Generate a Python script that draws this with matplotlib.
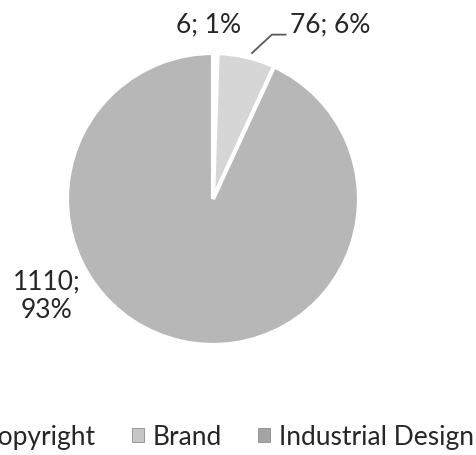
import numpy as np
import matplotlib.pyplot as plt
from matplotlib.patches import Patch

# Data
categories = ['Copyright', 'Brand', 'Industrial Design']
counts = [6, 76, 1110]
shares = [1, 6, 93]
colors = ['#f4f4f4', '#d6d6d6', '#b7b7b7']
legend_colors = ['#e8e8e8', '#c6c6c6', '#a4a4a4']

plt.rcParams['font.family'] = ['Lato', 'DejaVu Sans']
fs = 19
txt = '#262626'

fig = plt.figure(figsize=(4.76, 4.56), dpi=100)
# square axes holding a unit-radius pie, centre ~ (213, 200) px
ax = fig.add_axes([67 / 476, 1 - 346 / 456, 292 / 476, 292 / 456])
wedges, _ = ax.pie(counts, colors=colors, startangle=90, counterclock=False,
                   radius=1.0,
                   wedgeprops={'edgecolor': 'white', 'linewidth': 3})
ax.set_xlim(-1, 1)
ax.set_ylim(-1, 1)
ax.set_aspect('equal')
ax.axis('off')

labels = [f'{c}; {s}%' for c, s in zip(counts, shares)]

# Copyright
ax.text(-0.03, 1.20, labels[0], ha='center', va='center', fontsize=fs,
        color=txt, clip_on=False)

# Brand with leader line
w = wedges[1]
mid = np.deg2rad((w.theta1 + w.theta2) / 2 - 1.5)
p0 = np.array([np.cos(mid), np.sin(mid)]) * 1.03
corner = p0 + np.array([0.14, 0.13])
end = corner + np.array([0.10, 0.0])
ax.plot([p0[0], corner[0], end[0]], [p0[1], corner[1], end[1]],
        color='#595959', lw=1.3, clip_on=False, solid_capstyle='butt')
ax.text(end[0] + 0.025, 1.20, labels[1], ha='left', va='center',
        fontsize=fs, color=txt, clip_on=False)

# Industrial Design
ax.text(-1.14, -0.66, labels[2].replace(' ', '\n'), ha='center', va='center',
        fontsize=fs, color=txt, linespacing=1.2, clip_on=False)

handles = [Patch(facecolor=lc, edgecolor='#8c8c8c', linewidth=0.6)
           for lc in legend_colors]
fig.legend(handles, categories, loc='center right',
           bbox_to_anchor=(474 / 476, 1 - 438 / 456),
           borderpad=0, borderaxespad=0,
           ncol=3, frameon=False, fontsize=fs, handlelength=0.45, handleheight=0.45,
           handletextpad=0.35, columnspacing=1.35, labelcolor=txt)

fig.savefig('out.png', dpi=100)
